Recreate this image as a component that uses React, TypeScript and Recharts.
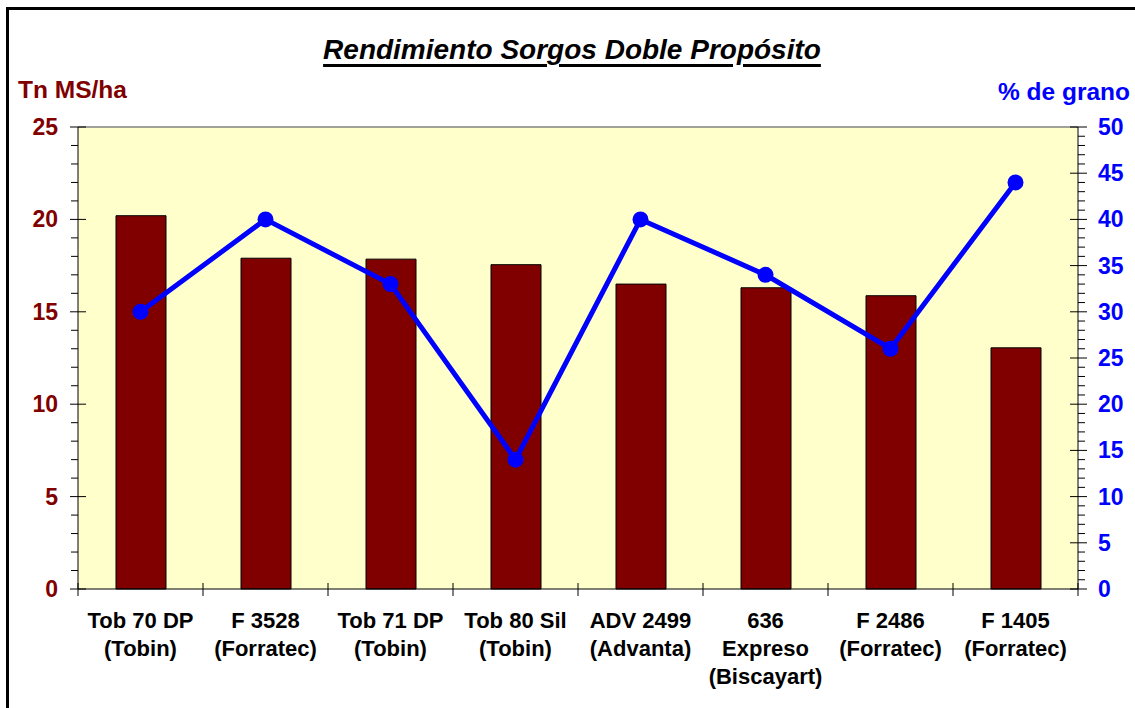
import React from "react";
import {
  ComposedChart,
  Bar,
  Line,
  XAxis,
  YAxis,
  CartesianGrid,
  ReferenceLine,
} from "recharts";

const categories: string[] = [
  "Tob 70 DP\n(Tobin)",
  "F 3528\n(Forratec)",
  "Tob 71 DP\n(Tobin)",
  "Tob 80 Sil\n(Tobin)",
  "ADV 2499\n(Advanta)",
  "636\nExpreso\n(Biscayart)",
  "F 2486\n(Forratec)",
  "F 1405\n(Forratec)",
];
const rendimiento: number[] = [20.2, 17.9, 17.85, 17.55, 16.5, 16.3, 15.87, 13.05];
const grano: number[] = [30, 40, 33, 14, 40, 34, 26, 44];

const leftTicks: number[] = [0, 1, 2, 3, 4, 5, 6, 7, 8, 9, 10, 11, 12, 13, 14, 15, 16, 17, 18, 19, 20, 21, 22, 23, 24, 25];
const rightTicks: number[] = [
  0, 1, 2, 3, 4, 5, 6, 7, 8, 9, 10, 11, 12, 13, 14, 15, 16, 17, 18, 19, 20, 21, 22, 23, 24, 25,
  26, 27, 28, 29, 30, 31, 32, 33, 34, 35, 36, 37, 38, 39, 40, 41, 42, 43, 44, 45, 46, 47, 48, 49, 50,
];

const data = categories.map((name, i) => ({
  name,
  rend: rendimiento[i],
  grano: grano[i],
}));

const FONT = "Arial, 'Liberation Sans', sans-serif";
const DARKRED = "#800000";
const BLUE = "#0000FF";
const BAND = 125;

const LeftTick = (props: any) => {
  const { x, y, payload } = props;
  const v = payload.value as number;
  const major = v % 5 === 0;
  return (
    <g>
      {major ? (
        <line x1={x - 8} x2={x + 8} y1={y} y2={y} stroke="#000" strokeWidth={1} />
      ) : (
        <line x1={x - 7} x2={x} y1={y} y2={y} stroke="#000" strokeWidth={1} />
      )}
      {major && (
        <text
          x={x - 20}
          y={y}
          dy={8}
          textAnchor="end"
          fill={DARKRED}
          fontFamily={FONT}
          fontWeight="bold"
          fontSize={23}
        >
          {v}
        </text>
      )}
    </g>
  );
};

const RightTick = (props: any) => {
  const { x, y, payload } = props;
  const v = payload.value as number;
  const major = v % 5 === 0;
  return (
    <g>
      {major ? (
        <line x1={x - 8} x2={x + 9} y1={y} y2={y} stroke="#000" strokeWidth={1} />
      ) : (
        <line x1={x} x2={x + 7} y1={y} y2={y} stroke="#000" strokeWidth={1} />
      )}
      {major && (
        <text
          x={x + 20}
          y={y}
          dy={8}
          textAnchor="start"
          fill={BLUE}
          fontFamily={FONT}
          fontWeight="bold"
          fontSize={23}
        >
          {v}
        </text>
      )}
    </g>
  );
};

const CatTick = (props: any) => {
  const { x, y, payload, index } = props;
  const lines = String(payload.value).split("\n");
  const last = index === categories.length - 1;
  return (
    <g>
      <line x1={x - BAND / 2} x2={x - BAND / 2} y1={y - 6} y2={y + 7} stroke="#000" strokeWidth={1} />
      {last && (
        <line x1={x + BAND / 2} x2={x + BAND / 2} y1={y - 6} y2={y + 7} stroke="#000" strokeWidth={1} />
      )}
      <text
        x={x}
        y={y + 39}
        textAnchor="middle"
        fill="#000"
        fontFamily={FONT}
        fontWeight="bold"
        fontSize={22}
      >
        {lines.map((l, i) => (
          <tspan key={i} x={x} dy={i === 0 ? 0 : 28}>
            {l}
          </tspan>
        ))}
      </text>
    </g>
  );
};

export default function App() {
  return (
    <div
      style={{
        position: "absolute",
        left: 0,
        top: 0,
        width: 1135,
        height: 708,
        background: "#fff",
        overflow: "hidden",
      }}
    >
      <div
        style={{
          position: "absolute",
          left: 6,
          top: 7,
          width: 1200,
          height: 800,
          border: "3px solid #000",
          boxSizing: "border-box",
        }}
      />
      <div
        style={{
          position: "absolute",
          left: 0,
          width: 1144,
          top: 36,
          lineHeight: 1,
          textAlign: "center",
          fontFamily: FONT,
          fontWeight: "bold",
          fontStyle: "italic",
          fontSize: 28,
          textDecoration: "underline",
          textDecorationThickness: 3,
          textUnderlineOffset: 5,
          color: "#000",
        }}
      >
        Rendimiento Sorgos Doble Propósito
      </div>
      <div
        style={{
          position: "absolute",
          left: 18,
          top: 78,
          lineHeight: 1,
          fontFamily: FONT,
          fontWeight: "bold",
          fontSize: 24.5,
          color: DARKRED,
        }}
      >
        Tn MS/ha
      </div>
      <div
        style={{
          position: "absolute",
          right: 5,
          top: 80,
          lineHeight: 1,
          fontFamily: FONT,
          fontWeight: "bold",
          fontSize: 24.5,
          color: BLUE,
        }}
      >
        % de grano
      </div>
      <div style={{ position: "absolute", left: 0, top: 0 }}>
        <ComposedChart
          width={1135}
          height={708}
          data={data}
          margin={{ top: 127, right: 0, bottom: 0, left: 0 }}
          barCategoryGap={0}
        >
          <CartesianGrid horizontal={false} vertical={false} fill="#FFFFCC" />
          <XAxis
            dataKey="name"
            xAxisId="x"
            height={119}
            tickSize={0}
            tickMargin={0}
            tickLine={false}
            interval={0}
            axisLine={{ stroke: "#000", strokeWidth: 1 }}
            tick={<CatTick />}
          />
          <YAxis
            yAxisId="left"
            orientation="left"
            width={78}
            domain={[0, 25]}
            ticks={leftTicks}
            interval={0}
            tickSize={0}
            tickMargin={0}
            tickLine={false}
            axisLine={{ stroke: "#000", strokeWidth: 1 }}
            tick={<LeftTick />}
          />
          <YAxis
            yAxisId="right"
            orientation="right"
            width={57}
            domain={[0, 50]}
            ticks={rightTicks}
            interval={0}
            tickSize={0}
            tickMargin={0}
            tickLine={false}
            axisLine={{ stroke: "#000", strokeWidth: 1 }}
            tick={<RightTick />}
          />
          <ReferenceLine yAxisId="left" xAxisId="x" y={25} stroke="#808080" strokeWidth={1.5} />
          <Bar
            xAxisId="x"
            yAxisId="left"
            dataKey="rend"
            barSize={50}
            fill={DARKRED}
            stroke="#000"
            strokeWidth={1}
            isAnimationActive={false}
          />
          <Line
            xAxisId="x"
            yAxisId="right"
            dataKey="grano"
            type="linear"
            stroke={BLUE}
            strokeWidth={5}
            dot={{ r: 8, fill: BLUE, stroke: BLUE, strokeWidth: 0 }}
            activeDot={false}
            isAnimationActive={false}
          />
        </ComposedChart>
      </div>
    </div>
  );
}
